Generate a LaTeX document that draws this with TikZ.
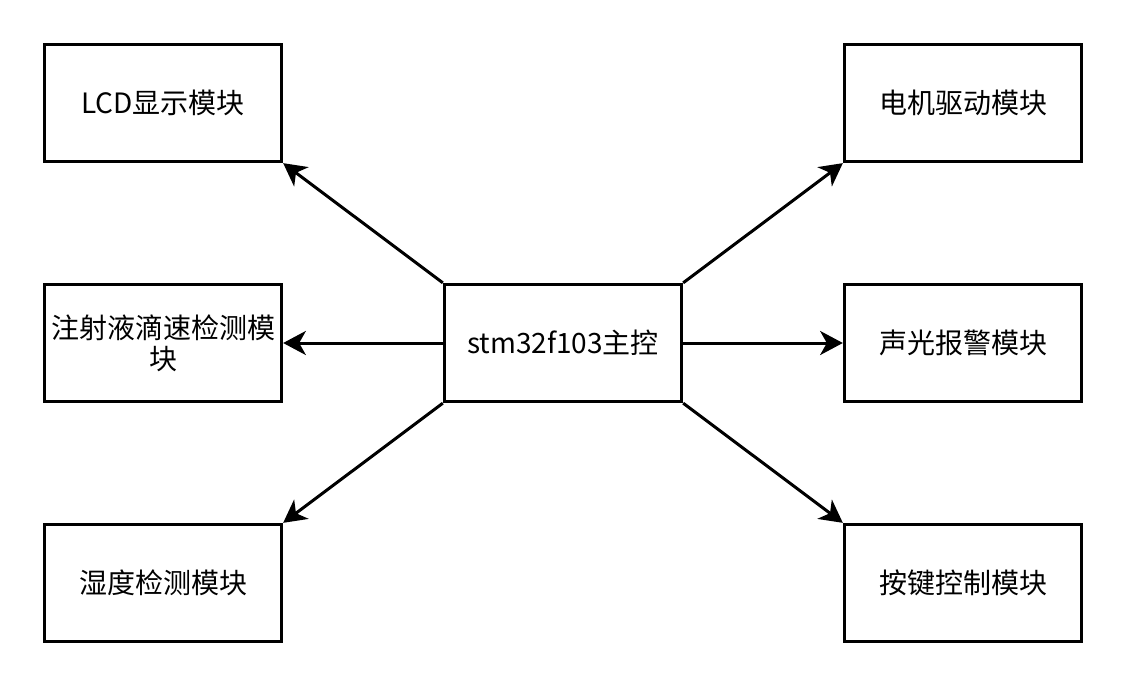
\documentclass[tikz,border=0pt]{standalone}
\usepackage{fontspec}
\setmainfont{Noto Sans CJK SC}
\usetikzlibrary{arrows.meta}
\tikzset{
    modbox/.style={draw, line width=2.25pt, minimum width=178pt, minimum height=88pt, align=center, font=\fontsize{21}{23}\selectfont, inner sep=1pt},
    link/.style={line width=2.25pt, -{Stealth[length=17pt, width=18pt, inset=5pt]}}
}
\begin{document}
\begin{tikzpicture}[x=0.75pt, y=-0.75pt]
\useasboundingbox (0,0) rectangle (1124,684);
% main controller
\node[modbox] (mcu) at (563,343) {stm32f103主控};
% left side
\node[modbox] (lcd) at (163,103) {LCD显示模块};
\node[modbox] (drip) at (163,343) {注射液滴速检测模\\块};
\node[modbox] (hum) at (163,583) {湿度检测模块};
% right side
\node[modbox] (motor) at (963,103) {电机驱动模块};
\node[modbox] (alarm) at (963,343) {声光报警模块};
\node[modbox] (key) at (963,583) {按键控制模块};
% connections
\draw[link] (mcu.north west) -- (lcd.south east);
\draw[link] (mcu.west) -- (drip.east);
\draw[link] (mcu.south west) -- (hum.north east);
\draw[link] (mcu.north east) -- (motor.south west);
\draw[link] (mcu.east) -- (alarm.west);
\draw[link] (mcu.south east) -- (key.north west);
\end{tikzpicture}
\end{document}
